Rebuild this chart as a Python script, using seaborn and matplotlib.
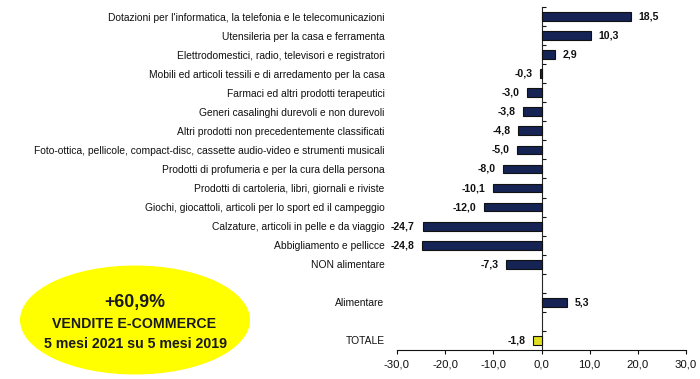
import matplotlib
matplotlib.use("Agg")
import matplotlib.pyplot as plt
from matplotlib.patches import Ellipse
from matplotlib.ticker import FixedLocator, FuncFormatter
import seaborn as sns
import pandas as pd
import numpy as np

categories = [
    "Dotazioni per l'informatica, la telefonia e le telecomunicazioni",
    "Utensileria per la casa e ferramenta",
    "Elettrodomestici, radio, televisori e registratori",
    "Mobili ed articoli tessili e di arredamento per la casa",
    "Farmaci ed altri prodotti terapeutici",
    "Generi casalinghi durevoli e non durevoli",
    "Altri prodotti non precedentemente classificati",
    "Foto-ottica, pellicole, compact-disc, cassette audio-video e strumenti musicali",
    "Prodotti di profumeria e per la cura della persona",
    "Prodotti di cartoleria, libri, giornali e riviste",
    "Giochi, giocattoli, articoli per lo sport ed il campeggio",
    "Calzature, articoli in pelle e da viaggio",
    "Abbigliamento e pellicce",
    "NON alimentare",
    "Alimentare",
    "TOTALE",
]
values = [18.5, 10.3, 2.9, -0.3, -3.0, -3.8, -4.8, -5.0, -8.0, -10.1,
          -12.0, -24.7, -24.8, -7.3, 5.3, -1.8]
row_order = categories[:14] + [" "] + ["Alimentare"] + ["  "] + ["TOTALE"]
x_ticks = [-30, -20, -10, 0, 10, 20, 30]
badge_lines = ["+60,9%", "VENDITE E-COMMERCE", "5 mesi 2021 su 5 mesi 2019"]

NAVY = "#0b1f5e"
YELLOW = "#ffff00"

sns.set_style("white")
plt.rcParams["font.family"] = ["Liberation Sans", "DejaVu Sans"]

df = pd.DataFrame({"cat": categories, "val": values})
palette = {c: (YELLOW if c == "TOTALE" else NAVY) for c in categories}

fig = plt.figure(figsize=(7.0, 3.79), dpi=100)
ax = fig.add_axes([397 / 700, 1 - 350 / 379, (686 - 397) / 700, (350 - 7) / 379])

sns.barplot(data=df, y="cat", x="val", hue="cat", order=row_order,
            palette=palette, orient="h", width=0.46, legend=False,
            edgecolor="#111111", linewidth=0.8, ax=ax)

ax.set_xlim(-30, 30)
ax.set_ylim(len(row_order) - 0.5, -0.5)
ax.set_xlabel("")
ax.set_ylabel("")

fmt = lambda v: f"{v:.1f}".replace(".", ",")
for cont in ax.containers:
    ax.bar_label(cont, labels=[fmt(v) for v in cont.datavalues], padding=5.5,
                 fontsize=7.6, fontweight="bold", color="#111111")

# x axis
ax.xaxis.set_major_locator(FixedLocator(x_ticks))
ax.xaxis.set_major_formatter(FuncFormatter(lambda v, p: fmt(v)))
ax.tick_params(axis="x", which="major", direction="out", length=3, width=0.8,
               color="#111111", labelsize=8.2, labelcolor="#111111", pad=4, bottom=True)
for s in ["top", "right", "left"]:
    ax.spines[s].set_visible(False)
ax.spines["bottom"].set_color("#111111")
ax.spines["bottom"].set_linewidth(0.8)

# y labels on left
ax.tick_params(axis="y", which="major", length=0, labelsize=7.4,
               labelcolor="#111111", pad=9)
ax.set_yticks(range(len(row_order)))
ax.set_yticklabels(row_order)

# value axis line at zero with ticks at category boundaries
sec = ax.secondary_yaxis(0.5)
sec.set_yticks(np.arange(-0.5, len(row_order) - 0.5, 1.0))
sec.set_yticklabels([])
sec.tick_params(axis="y", direction="out", length=3, width=0.8, color="#111111")
sec.spines["left"].set_color("#111111")
sec.spines["left"].set_linewidth(0.8)

# badge
ell = Ellipse((135 / 700, 1 - 320 / 379), 230 / 700, 109 / 379,
              transform=fig.transFigure, facecolor=YELLOW, edgecolor="none")
fig.patches.append(ell)
fig.text(135 / 700, 1 - 303 / 379, badge_lines[0], ha="center", va="center",
         fontsize=12.8, fontweight="bold", color="#1a1a1a")
fig.text(134 / 700, 1 - 324 / 379, badge_lines[1], ha="center", va="center",
         fontsize=10.2, fontweight="bold", color="#1a1a1a")
fig.text(135 / 700, 1 - 344 / 379, badge_lines[2], ha="center", va="center",
         fontsize=10.2, fontweight="bold", color="#1a1a1a")

fig.savefig("out.png", dpi=100)
